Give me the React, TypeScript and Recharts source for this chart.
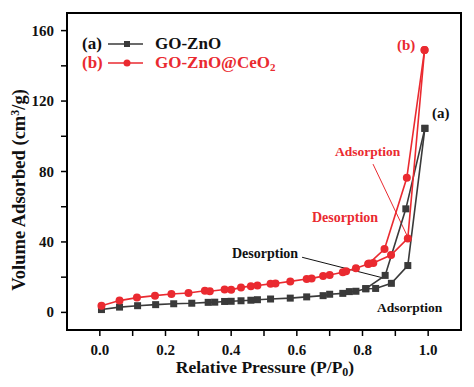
import React from 'react';
import { LineChart, Line, XAxis, YAxis, ReferenceArea, ReferenceLine } from 'recharts';

// GO-ZnO (a)
const znoAdsP = [0.005, 0.06, 0.115, 0.17, 0.225, 0.28, 0.33, 0.35, 0.38, 0.4, 0.43, 0.46, 0.48, 0.52, 0.58, 0.63, 0.68, 0.7, 0.74, 0.76, 0.78, 0.81, 0.84, 0.888, 0.938, 0.99];
const znoAdsV = [1.6, 3.0, 3.8, 4.4, 4.9, 5.2, 5.7, 5.8, 6.2, 6.3, 6.6, 6.9, 7.2, 7.6, 8.1, 8.8, 9.5, 10.3, 10.8, 11.8, 12.0, 13.4, 13.6, 16.5, 26.6, 104.5];
const znoDesP = [0.99, 0.932, 0.869, 0.81];
const znoDesV = [104.5, 58.8, 21, 13.5];

// GO-ZnO@CeO2 (b)
const ceoAdsP = [0.005, 0.06, 0.113, 0.168, 0.218, 0.27, 0.32, 0.335, 0.38, 0.4, 0.43, 0.46, 0.48, 0.52, 0.535, 0.58, 0.63, 0.645, 0.68, 0.7, 0.74, 0.75, 0.78, 0.817, 0.833, 0.887, 0.938, 0.989];
const ceoAdsV = [3.8, 6.7, 8.4, 9.5, 10.4, 11.0, 12.3, 12.0, 13.0, 12.8, 14.2, 14.9, 15.3, 16.2, 16.4, 17.6, 19.0, 19.3, 20.6, 21.2, 22.8, 23.3, 25.0, 27.5, 28.0, 32.6, 42.0, 149];
const ceoDesP = [0.989, 0.935, 0.867, 0.82];
const ceoDesV = [149, 76.4, 36, 27.8];

const xTicks = [0, 0.1, 0.2, 0.3, 0.4, 0.5, 0.6, 0.7, 0.8, 0.9, 1.0];
const yTicks = [0, 20, 40, 60, 80, 100, 120, 140, 160];

const RED = '#ea2a30';
const DARK = '#3a3a3a';
const FONT = "'Liberation Serif', 'Times New Roman', serif";

const toPoints = (ps: number[], vs: number[]) => ps.map((p, i) => ({ p, v: vs[i] }));

const SquareDot = (props: any) => {
  const { cx, cy, index } = props;
  return <rect key={`sq-${index}`} x={cx - 3.5} y={cy - 3.5} width={7} height={7} fill={DARK} />;
};

const CircleDot = (props: any) => {
  const { cx, cy, index } = props;
  return <circle key={`ci-${index}`} cx={cx} cy={cy} r={4} fill={RED} />;
};

const XTick = (props: any) => {
  const { x, y, payload } = props;
  const v = payload.value;
  if (Math.round(v * 10) % 2 !== 0) return <g />;
  return (
    <text x={x} y={y + 17} textAnchor="middle" style={{ fontFamily: FONT, fontWeight: 'bold' }} fontSize={15} fill="#111">
      {v.toFixed(1)}
    </text>
  );
};

const YTick = (props: any) => {
  const { x, y, payload } = props;
  const v = payload.value;
  if (v % 40 !== 0) return <g />;
  return (
    <text x={x - 5} y={y + 5} textAnchor="end" style={{ fontFamily: FONT, fontWeight: 'bold' }} fontSize={15} fill="#111">
      {v}
    </text>
  );
};

export default function App() {
  const textStyle = { style: { fontFamily: FONT, fontWeight: 'bold' as const } };
  return (
    <div style={{ position: 'absolute', left: 0, top: 0, width: 474, height: 387, background: '#fff' }}>
      <LineChart width={474} height={387} margin={{ top: 13, right: 13, bottom: 0, left: 0 }}>
        <XAxis
          type="number"
          dataKey="p"
          domain={[-0.1, 1.1]}
          ticks={xTicks}
          tick={<XTick />}
          tickSize={6}
          height={57}
          axisLine={{ stroke: '#000', strokeWidth: 2 }}
          tickLine={{ stroke: '#000', strokeWidth: 1.5 }}
          allowDataOverflow
        />
        <YAxis
          type="number"
          domain={[-10, 170]}
          ticks={yTicks}
          tick={<YTick />}
          tickSize={6}
          width={67}
          axisLine={{ stroke: '#000', strokeWidth: 2 }}
          tickLine={{ stroke: '#000', strokeWidth: 1.5 }}
          allowDataOverflow
        />
        <ReferenceArea x1={-0.1} x2={1.1} y1={-10} y2={170} fill="none" stroke="#000" strokeWidth={2} />
        <ReferenceLine segment={[{ x: 0.832, y: 84.2 }, { x: 0.936, y: 43.5 }]} stroke={RED} strokeWidth={1} />
        <ReferenceLine segment={[{ x: 0.616, y: 31.3 }, { x: 0.862, y: 19.6 }]} stroke="#111" strokeWidth={1} />
        <Line data={toPoints(znoAdsP, znoAdsV)} dataKey="v" stroke={DARK} strokeWidth={1.6} dot={SquareDot} isAnimationActive={false} />
        <Line data={toPoints(znoDesP, znoDesV)} dataKey="v" stroke={DARK} strokeWidth={1.6} dot={SquareDot} isAnimationActive={false} />
        <Line data={toPoints(ceoAdsP, ceoAdsV)} dataKey="v" stroke={RED} strokeWidth={1.6} dot={CircleDot} isAnimationActive={false} />
        <Line data={toPoints(ceoDesP, ceoDesV)} dataKey="v" stroke={RED} strokeWidth={1.6} dot={CircleDot} isAnimationActive={false} />
      </LineChart>
      <svg width={474} height={387} style={{ position: 'absolute', left: 0, top: 0, pointerEvents: 'none' }}>
        {/* legend */}
        <text x={82} y={49} fontSize={17} fill="#111" {...textStyle}>(a)</text>
        <line x1={108} x2={143} y1={44} y2={44} stroke={DARK} strokeWidth={1.6} />
        <rect x={124} y={41} width={6} height={6} fill={DARK} />
        <text x={155} y={49} fontSize={17} fill="#111" {...textStyle}>GO-ZnO</text>
        <text x={82} y={68} fontSize={17} fill={RED} {...textStyle}>(b)</text>
        <line x1={108} x2={143} y1={63} y2={63} stroke={RED} strokeWidth={1.6} />
        <circle cx={127} cy={63} r={3.5} fill={RED} />
        <text x={155} y={68} fontSize={17} fill={RED} {...textStyle}>
          GO-ZnO@CeO<tspan fontSize={11} dy={3}>2</tspan>
        </text>
        {/* curve labels */}
        <text x={397} y={50} fontSize={15} fill={RED} {...textStyle}>(b)</text>
        <text x={432} y={118} fontSize={15} fill="#111" {...textStyle}>(a)</text>
        <text x={335} y={156} fontSize={13.5} fill={RED} {...textStyle}>Adsorption</text>
        <text x={312} y={222} fontSize={14} fill={RED} {...textStyle}>Desorption</text>
        <text x={232} y={258} fontSize={14} fill="#111" {...textStyle}>Desorption</text>
        <text x={377} y={312} fontSize={13.5} fill="#111" {...textStyle}>Adsorption</text>
        {/* axis titles */}
        <text x={265} y={373} textAnchor="middle" fontSize={17.5} fill="#111" {...textStyle}>
          Relative Pressure (P/P<tspan fontSize={12} dy={3}>0</tspan><tspan dy={-3}>)</tspan>
        </text>
        <text
          x={25}
          y={190}
          textAnchor="middle"
          fontSize={18.5}
          fill="#111"
          transform="rotate(-90 25 190)"
          {...textStyle}
        >
          Volume Adsorbed (cm<tspan fontSize={12} dy={-6}>3</tspan><tspan dy={6}>/g)</tspan>
        </text>
      </svg>
    </div>
  );
}
